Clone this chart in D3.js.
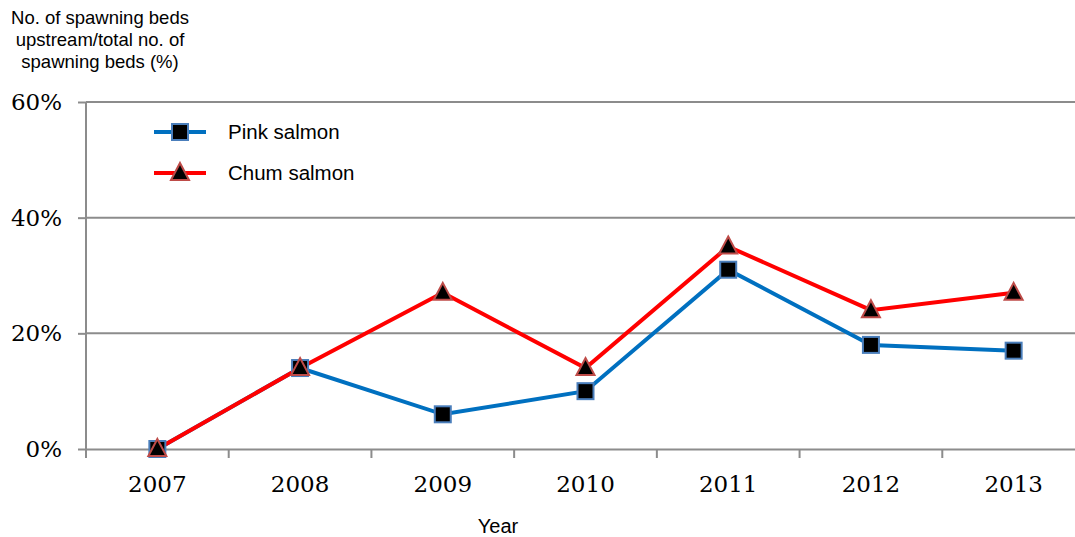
<!DOCTYPE html>
<html><head><meta charset="utf-8">
<script src="https://cdn.jsdelivr.net/npm/d3@7"></script>
<style>body{margin:0;background:#fff}</style>
</head><body>
<svg id="c" width="1075" height="537"></svg>
<script>
const years = ["2007","2008","2009","2010","2011","2012","2013"];
const pink = [0, 14, 6, 10, 31, 18, 17];
const chum = [0, 14, 27, 14, 35, 24, 27];
const yTicks = [0, 20, 40, 60];

const svg = d3.select("#c");
const x = d3.scaleBand().domain(years).range([86, 1085]);
const y = d3.scaleLinear().domain([0, 60]).range([449, 102]);
const serif = "'DejaVu Serif','Liberation Serif',serif";
const sans = "'Liberation Sans',Arial,sans-serif";

// gridlines
svg.append("g").selectAll("line").data(yTicks.filter(d=>d>0)).join("line")
  .attr("x1", 86).attr("x2", 1075).attr("y1", d=>y(d)).attr("y2", d=>y(d))
  .attr("stroke", "#8c8c8c").attr("stroke-width", 2);

// y axis
const ya = svg.append("g").attr("transform","translate(86,0)")
  .call(d3.axisLeft(y).tickValues(yTicks).tickSize(8).tickPadding(16).tickFormat(d=>d+"%"));
ya.select(".domain").attr("stroke","#8c8c8c").attr("stroke-width",2).attr("d","M0,102V449");
ya.selectAll(".tick line").attr("stroke","#8c8c8c").attr("stroke-width",2);
ya.selectAll("text").attr("font-family",serif).attr("font-size",23).attr("fill","#000");

// x axis
const xa = svg.append("g").attr("transform","translate(0,449)")
  .call(d3.axisBottom(x).tickSize(0).tickPadding(27));
xa.select(".domain").attr("stroke","#8c8c8c").attr("stroke-width",2);
xa.selectAll("text").attr("font-family",serif).attr("font-size",23).attr("fill","#000");
svg.append("g").selectAll("line").data(years).join("line")
  .attr("x1", d=>x(d)).attr("x2", d=>x(d)).attr("y1",449).attr("y2",458)
  .attr("stroke","#8c8c8c").attr("stroke-width",2);

// titles
const t = svg.append("text").attr("font-family",sans).attr("font-size",18.5).attr("text-anchor","middle").attr("fill","#000");
["No. of spawning beds","upstream/total no. of","spawning beds (%)"].forEach((s,i)=>
  t.append("tspan").attr("x",100).attr("y",24+i*22).text(s));
svg.append("text").attr("x",498).attr("y",533).attr("font-family",sans).attr("font-size",20)
  .attr("text-anchor","middle").text("Year");

const cx = d=>x(d)+x.bandwidth()/2;
const line = d3.line().x((d,i)=>cx(years[i])).y(d=>y(d));

function drawSquare(g, px, py){
  g.append("rect").attr("x",px-8).attr("y",py-8).attr("width",16).attr("height",16)
   .attr("fill","#000").attr("stroke","#4a7ebb").attr("stroke-width",2);
}
function drawTri(g, px, py){
  g.append("path").attr("d",`M${px},${py-10}L${px+9},${py+7}L${px-9},${py+7}Z`)
   .attr("fill","#000").attr("stroke","#be4b48").attr("stroke-width",2);
}

svg.append("path").datum(pink).attr("d",line).attr("fill","none").attr("stroke","#0070c0").attr("stroke-width",4);
svg.append("path").datum(chum).attr("d",line).attr("fill","none").attr("stroke","#ff0000").attr("stroke-width",4);
const mk = svg.append("g");
pink.forEach((v,i)=>drawSquare(mk, cx(years[i]), y(v)));
chum.forEach((v,i)=>drawTri(mk, cx(years[i]), y(v)));

// legend
const lg = svg.append("g");
lg.append("line").attr("x1",154).attr("x2",206).attr("y1",132).attr("y2",132).attr("stroke","#0070c0").attr("stroke-width",4);
drawSquare(lg,180,132);
lg.append("text").attr("x",228).attr("y",139).attr("font-family",sans).attr("font-size",20.5).text("Pink salmon");
lg.append("line").attr("x1",154).attr("x2",206).attr("y1",173).attr("y2",173).attr("stroke","#ff0000").attr("stroke-width",4);
drawTri(lg,180,173);
lg.append("text").attr("x",228).attr("y",180).attr("font-family",sans).attr("font-size",20.5).text("Chum salmon");
</script>
</body></html>
